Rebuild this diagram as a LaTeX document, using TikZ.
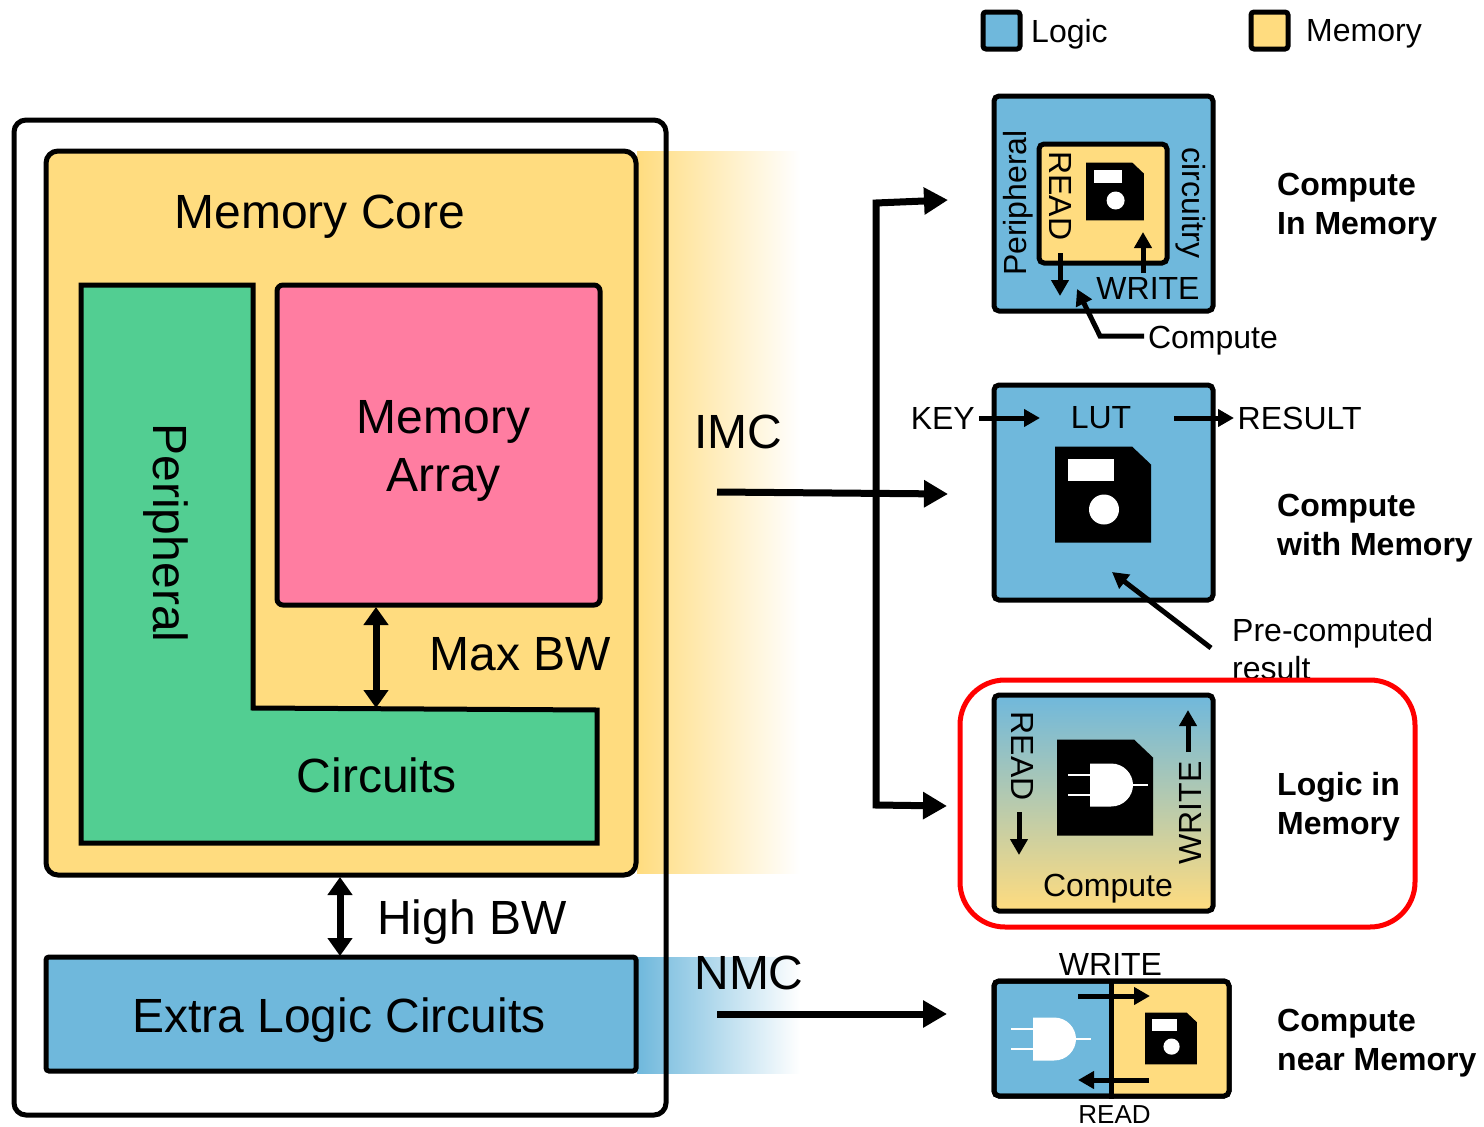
\documentclass[tikz,border=0pt]{standalone}
\usepackage{fontspec}
\setmainfont{Liberation Sans}
\usepackage{tikz}
\usetikzlibrary{arrows.meta}
\usetikzlibrary{positioning}
\definecolor{logicblue}{HTML}{6FB8DC}
\definecolor{memyellow}{HTML}{FFDC7F}
\definecolor{arraypink}{HTML}{FF7DA1}
\definecolor{periphgreen}{HTML}{52CE92}
\tikzset{
  block/.style={draw, line width=5pt, rounded corners=5pt, inner sep=0pt},
  bigtext/.style={font=\fontsize{48}{58}\selectfont, align=center},
  smalltext/.style={font=\fontsize{32}{38}\selectfont, inner sep=0pt},
  boldtext/.style={font=\fontsize{32}{39}\selectfont\bfseries, align=left, anchor=west, inner sep=0pt},
  bigarrow/.style={line width=7pt, -{Triangle[length=24pt,width=26pt]}},
  midarrow/.style={line width=7pt, {Triangle[length=18pt,width=24pt]}-{Triangle[length=18pt,width=24pt]}},
  tinyarrow/.style={line width=5pt, -{Triangle[length=16pt,width=17pt]}},
  docshape/.pic={
    \fill[black] (-48,-48) -- (29,-48) -- (48,-30) -- (48,48) -- (-48,48) -- cycle;
  },
  floppy/.pic={
    \fill[black] (-48,-48) -- (29,-48) -- (48,-30) -- (48,48) -- (-48,48) -- cycle;
    \fill[white] (-35,-36) rectangle (11,-14);
    \fill[white] (1,15) circle (15);
  },
  andgate/.pic={
    \fill[white] (-21,-21.5) -- (0,-21.5) .. controls (13,-21.5) and (22,-11) .. (22,0)
      .. controls (22,11) and (13,21.5) .. (0,21.5) -- (-21,21.5) -- cycle;
    \draw[white, line width=1.6pt] (-43,-10) -- (-21,-10) (-43,10) -- (-21,10) (22,0) -- (37,0);
  },
}
\begin{document}
\begin{tikzpicture}[x=1pt,y=-1pt]
\useasboundingbox (0,0) rectangle (1484,1127);
% legend
\node[block, rounded corners=3pt, fill=logicblue, minimum size=37pt] (legendlogic) at (1001.5,30.5) {};
\node[block, rounded corners=3pt, fill=memyellow, minimum size=37pt] (legendmem) at (1269.5,30.5) {};
\node[smalltext, anchor=west] (logiclabel) at (1031,34) {Logic};
\node[smalltext, anchor=west] (memlabel) at (1306,34) {Memory};
% fades out of the chip
\fill[left color=memyellow, right color=white] (637,151) rectangle (800,873);
\fill[left color=logicblue, right color=white] (637,957) rectangle (800,1073);
% chip
\node[draw, line width=5pt, rounded corners=12pt, minimum width=652pt, minimum height=995pt] (chip) at (340,617.5) {};
\node[block, rounded corners=12pt, fill=memyellow, minimum width=590pt, minimum height=724pt] (core) at (341,513) {};
\node[bigtext] (corelabel) at (320,217) {Memory Core};
\node[block, rounded corners=6pt, fill=arraypink, minimum width=323pt, minimum height=320pt] (array) at (438.5,445) {};
\node[bigtext] (arraylabel) at (443.5,451) {Memory\\Array};
\draw[line width=5pt, fill=periphgreen] (81,285) -- (253,285) -- (253,708) -- (597,710) -- (597,843) -- (81,843) -- cycle;
\node[bigtext, rotate=-90] (periphlabel) at (166,533) {Peripheral};
\node[bigtext] (circuitslabel) at (377,775) {Circuits};
\node[bigtext] (maxbwlabel) at (520.5,654) {Max BW};
\node[block, rounded corners=3pt, fill=logicblue, minimum width=590pt, minimum height=114pt] (extra) at (341,1014) {};
\node[bigtext] (extralabel) at (339,1020) {Extra Logic Circuits};
\node[bigtext] (highbwlabel) at (472,922) {High BW};
\coordinate (maxtop) at (376,607);
\coordinate (maxbot) at (376,708);
\coordinate (hightop) at (340,877);
\coordinate (highbot) at (340,956);
\draw[midarrow] (maxtop) -- (maxbot);
\draw[midarrow] (hightop) -- (highbot);
% IMC and NMC
\node[bigtext] (imclabel) at (738,432) {IMC};
\node[bigtext] (nmclabel) at (749,973) {NMC};
\coordinate (imcstart) at (717,492);
\coordinate (imcend) at (948,494);
\coordinate (branchtop) at (948,200);
\coordinate (branchbot) at (947,806);
\coordinate (nmcstart) at (717,1014);
\coordinate (nmcend) at (947,1014);
\draw[bigarrow] (imcstart) -- (imcend);
\draw[bigarrow, {Triangle[length=24pt,width=26pt]}-{Triangle[length=24pt,width=26pt]}] (branchtop) -- (876,203) -- (876,805) -- (branchbot);
\draw[bigarrow] (nmcstart) -- (nmcend);
% compute in memory
\node[block, fill=logicblue, minimum width=219pt, minimum height=215pt] (cimbox) at (1103.5,203.5) {};
\node[block, fill=memyellow, minimum width=128pt, minimum height=119pt] (ciminner) at (1103,203.5) {};
\pic[scale=.6] (cimfloppy) at (1115,191.5) {floppy};
\node[smalltext, rotate=90] (cimperiph) at (1018,203) {Peripheral};
\node[smalltext, rotate=-90] (cimread) at (1060,196) {READ};
\node[smalltext, rotate=-90] (cimcirc) at (1191,203) {circuitry};
\node[smalltext] (cimwrite) at (1148,288) {WRITE};
\node[smalltext] (cimcompute) at (1213,341) {Compute};
\coordinate (cimreadtop) at (1060,253);
\coordinate (cimreadbot) at (1060,296);
\coordinate (cimwritebot) at (1143,273);
\coordinate (cimwritetop) at (1143,232);
\coordinate (cimtip) at (1077,289);
\coordinate (cimcomputeend) at (1144,336);
\draw[tinyarrow] (cimreadtop) -- (cimreadbot);
\draw[tinyarrow] (cimwritebot) -- (cimwritetop);
\draw[tinyarrow] (cimcomputeend) -- (1100,336) -- (cimtip);
\node[boldtext] (cimlabel) at (1277,207) {Compute\\In Memory};
% compute with memory
\node[block, fill=logicblue, minimum width=219pt, minimum height=215pt] (cwmbox) at (1103.5,492.5) {};
\pic (cwmfloppy) at (1103,494.5) {floppy};
\node[smalltext] (cwmlut) at (1101,418) {LUT};
\node[smalltext, anchor=east] (cwmkey) at (975,418) {KEY};
\node[smalltext, anchor=west] (cwmresult) at (1237.5,418) {RESULT};
\coordinate (cwmkeystart) at (979,418);
\coordinate (cwmkeyend) at (1040,418);
\coordinate (cwmresstart) at (1174,418);
\coordinate (cwmresend) at (1234,418);
\coordinate (cwmpre) at (1211,648);
\coordinate (cwmtip) at (1112,572);
\draw[tinyarrow] (cwmkeystart) -- (cwmkeyend);
\draw[tinyarrow] (cwmresstart) -- (cwmresend);
\draw[tinyarrow] (cwmpre) -- (cwmtip);
\node[smalltext, anchor=west, align=left] (cwmprelabel) at (1232,649) {Pre-computed\\result};
\node[boldtext] (cwmlabel) at (1277,528) {Compute\\with Memory};
% logic in memory
\node[draw=red, line width=5pt, rounded corners=45pt, minimum width=455pt, minimum height=247pt] (limfocus) at (1187.5,803.5) {};
\node[block, top color=logicblue, bottom color=memyellow, minimum width=219pt, minimum height=216pt] (limbox) at (1103.5,803) {};
\pic (limdoc) at (1105,787.5) {docshape};
\pic (limgate) at (1111,785) {andgate};
\node[smalltext, rotate=-90] (limread) at (1022,756) {READ};
\node[smalltext, rotate=90] (limwrite) at (1190,813) {WRITE};
\node[smalltext] (limcompute) at (1108,889) {Compute};
\coordinate (limreadtop) at (1019,812);
\coordinate (limreadbot) at (1019,855);
\coordinate (limwritebot) at (1188,752);
\coordinate (limwritetop) at (1188,710);
\draw[tinyarrow] (limreadtop) -- (limreadbot);
\draw[tinyarrow] (limwritebot) -- (limwritetop);
\node[boldtext] (limlabel) at (1277,807) {Logic in\\Memory};
% compute near memory
\node[block, fill=logicblue, minimum width=235pt, minimum height=115pt] (nearbox) at (1111.5,1038.5) {};
\fill[memyellow] (1111,983.5) rectangle (1226.5,1093.5);
\node[block, minimum width=235pt, minimum height=115pt] (nearframe) at (1111.5,1038.5) {};
\draw[line width=5pt] (nearframe.north) -- (nearframe.south);
\pic (neargate) at (1054,1039) {andgate};
\pic[scale=.54] (nearfloppy) at (1171,1038.5) {floppy};
\node[smalltext] (nearwrite) at (1110.5,964) {WRITE};
\node[smalltext, font=\fontsize{26}{30}\selectfont] (nearread) at (1114.5,1115) {READ};
\coordinate (nearwa) at (1078,996);
\coordinate (nearwb) at (1150,996);
\coordinate (nearra) at (1149,1080);
\coordinate (nearrb) at (1078,1080);
\draw[tinyarrow] (nearwa) -- (nearwb);
\draw[tinyarrow] (nearra) -- (nearrb);
\node[boldtext] (nearlabel) at (1277,1043) {Compute\\near Memory};
\end{tikzpicture}
\end{document}
